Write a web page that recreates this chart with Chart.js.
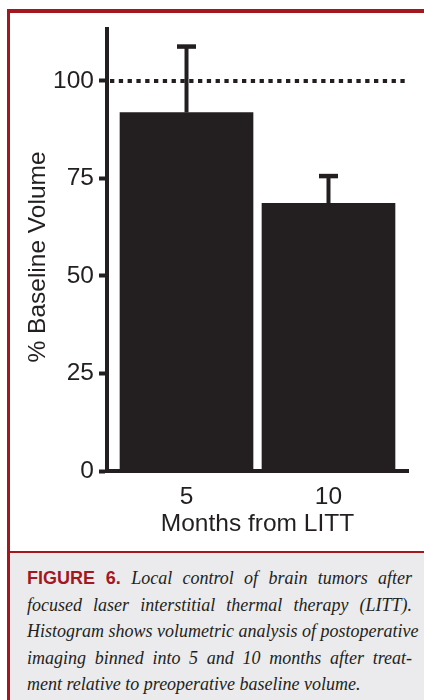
<!DOCTYPE html>
<html lang="en">
<head>
    <meta charset="UTF-8">
    <title>Figure 6 - Baseline Volume after LITT</title>
    <script src="https://cdn.jsdelivr.net/npm/chart.js"></script>
    <style>
        body { margin: 0; width: 424px; height: 700px; background: #fff; position: relative; overflow: hidden; }
        #myChart { position: absolute; left: 0; top: 0; }
        .red { position: absolute; background: #a3171f; z-index: 2; }
        .caption {
            position: absolute; left: 10px; right: 0; top: 553px; bottom: 0;
            background: #ebebed; padding: 12px 12px 0 17px;
            color: #231f20; font-family: "Liberation Serif", serif; font-style: italic; font-size: 18px;
        }
        .caption div { height: 26.5px; line-height: 26.5px; white-space: nowrap; text-align: justify; text-align-last: justify; }
        .caption div.last { text-align: left; text-align-last: left; }
        .caption b { font-family: "Liberation Sans", Arial, sans-serif; font-style: normal; font-weight: bold; color: #a3171f; font-size: 18px; }
    </style>
</head>
<body>
    <canvas id="myChart" width="424" height="551"></canvas>
    <div class="red" style="left:7px; top:9px; width:417px; height:4px;"></div>
    <div class="red" style="left:7px; top:9px; width:3px; height:691px;"></div>
    <div class="red" style="left:7px; top:551px; width:417px; height:2px;"></div>
    <div class="caption">
        <div><b>FIGURE 6.</b> Local control of brain tumors after</div>
        <div>focused laser interstitial thermal therapy (LITT).</div>
        <div>Histogram shows volumetric analysis of postoperative</div>
        <div>imaging binned into 5 and 10 months after treat-</div>
        <div class="last">ment relative to preoperative baseline volume.</div>
    </div>

    <script>
        // values
        const months = [5, 10];
        const meanVolume = [91.9, 68.6];
        const errorUp = [16.9, 7.0];
        const baselineLine = 100;
        const yTickValues = [0, 25, 50, 75, 100];

        const ink = '#231f20';

        // upper error bars, drawn over the bars
        const errorBars = {
            id: 'errorBars',
            afterDatasetsDraw(chart) {
                const ctx = chart.ctx;
                const y = chart.scales.y;
                chart.getDatasetMeta(0).data.forEach((bar, i) => {
                    const top = y.getPixelForValue(meanVolume[i] + errorUp[i]);
                    ctx.save();
                    ctx.strokeStyle = ink;
                    ctx.lineWidth = 4;
                    ctx.beginPath();
                    ctx.moveTo(bar.x, bar.y);
                    ctx.lineTo(bar.x, top);
                    ctx.stroke();
                    ctx.lineWidth = 4.5;
                    ctx.beginPath();
                    ctx.moveTo(bar.x - 9.5, top);
                    ctx.lineTo(bar.x + 9.5, top);
                    ctx.stroke();
                    ctx.restore();
                });
            }
        };

        // dotted 100% baseline
        const baseline = {
            id: 'baseline',
            afterDatasetsDraw(chart) {
                const ctx = chart.ctx;
                const area = chart.chartArea;
                const yy = chart.scales.y.getPixelForValue(baselineLine);
                ctx.save();
                ctx.strokeStyle = ink;
                ctx.lineWidth = 4;
                ctx.setLineDash([4.3, 4.5]);
                ctx.beginPath();
                ctx.moveTo(area.left + 3, yy);
                ctx.lineTo(area.right - 3, yy);
                ctx.stroke();
                ctx.restore();
            }
        };

        // y axis title, sits a little below the middle in the original
        const yTitle = {
            id: 'yTitle',
            afterDraw(chart) {
                const ctx = chart.ctx;
                const area = chart.chartArea;
                ctx.save();
                ctx.translate(38, (area.top + area.bottom) / 2 + 7);
                ctx.rotate(-Math.PI / 2);
                ctx.fillStyle = ink;
                ctx.font = '24.5px "Liberation Sans"';
                ctx.textAlign = 'center';
                ctx.textBaseline = 'middle';
                ctx.fillText('% Baseline Volume', 0, 0);
                ctx.restore();
            }
        };

        const ctx = document.getElementById('myChart').getContext('2d');
        const myChart = new Chart(ctx, {
            type: 'bar',
            data: {
                datasets: [{
                    data: months.map((m, i) => ({ x: m, y: meanVolume[i] })),
                    backgroundColor: ink,
                    borderWidth: 0,
                    barThickness: 133
                }]
            },
            options: {
                responsive: false,
                animation: false,
                layout: { padding: { top: 29, left: 10, right: 16, bottom: 0 } },
                plugins: { legend: { display: false }, tooltip: { enabled: false } },
                scales: {
                    x: {
                        type: 'linear',
                        offset: false,
                        min: 2.2,
                        max: 12.8,
                        afterBuildTicks: (scale) => { scale.ticks = months.map(v => ({ value: v })); },
                        afterFit: (scale) => { scale.height = 80; },
                        grid: { display: false, drawTicks: false, offset: false },
                        border: { display: true, color: ink, width: 4 },
                        ticks: { color: ink, padding: 12, font: { family: 'Liberation Sans', size: 24.5 } },
                        title: {
                            display: true, text: 'Months from LITT', color: ink,
                            font: { family: 'Liberation Sans', size: 24.5 }, padding: { top: 0, bottom: 12 }
                        }
                    },
                    y: {
                        min: 0,
                        max: 113.3,
                        afterBuildTicks: (scale) => { scale.ticks = yTickValues.map(v => ({ value: v })); },
                        afterFit: (scale) => { scale.width = 97; },
                        grid: { display: true, drawOnChartArea: false, drawTicks: true, tickLength: 8, tickWidth: 4, tickColor: ink },
                        border: { display: true, color: ink, width: 4 },
                        ticks: { color: ink, padding: 5, font: { family: 'Liberation Sans', size: 24.5 } },
                        title: { display: false }
                    }
                }
            },
            plugins: [errorBars, baseline, yTitle]
        });
    </script>
</body>
</html>
